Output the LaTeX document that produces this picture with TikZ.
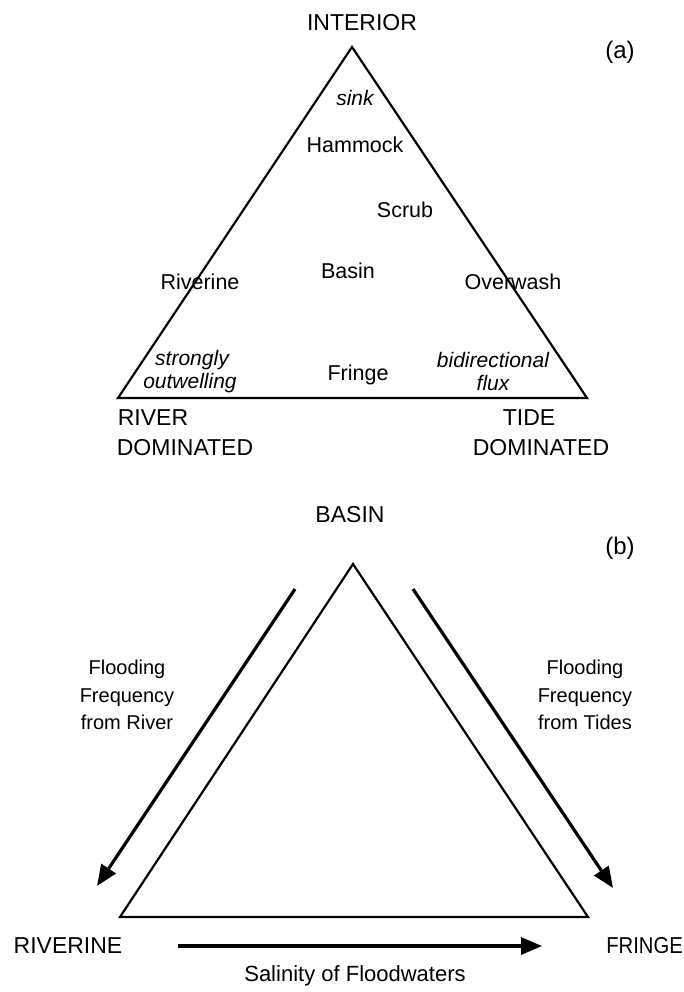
\documentclass[tikz,border=0pt]{standalone}
\usepackage{fontspec}
\usepackage{graphicx}
\setmainfont{Liberation Sans}
\usetikzlibrary{arrows.meta}
\begin{document}
\begin{tikzpicture}[x=1pt,y=-1pt,
  lbl/.style={inner sep=0pt,font=\fontsize{21.5}{25}\selectfont},
  ital/.style={inner sep=0pt,font=\fontsize{21}{25}\selectfont\itshape},
  caps/.style={inner sep=0pt,font=\fontsize{23}{27}\selectfont},
  multi/.style={inner sep=0pt,align=center,font=\fontsize{20}{27.5}\selectfont},
  tri/.style={line width=2.2pt,line join=miter},
  flow/.style={line width=3.2pt,-{Triangle[length=21pt,width=17pt]}}]
\useasboundingbox (0,0) rectangle (684,992);
% ---------- panel (a) ----------
\coordinate (aT) at (352,47);
\coordinate (aL) at (118,398);
\coordinate (aR) at (587,398);
\draw[tri] (aT) -- (aL) -- (aR) -- cycle;
\node[caps] (interior) at (362,23) {INTERIOR};
\node[caps,font=\fontsize{24}{28}\selectfont] (alab) at (620,52) {(a)};
\node[ital] (sink) at (355,98) {sink};
\node[lbl] (hammock) at (355,145) {Hammock};
\node[lbl] (scrub) at (405,210) {Scrub};
\node[lbl] (basin) at (348,271) {Basin};
\node[lbl] (riverine) at (200,282) {Riverine};
\node[lbl] (overwash) at (513,282) {Overwash};
\node[ital] (strongly) at (192,360) {strongly};
\node[ital] (outwell) at (190,383) {outwelling};
\node[lbl] (fringe) at (358,375) {Fringe};
\node[ital] (bidir) at (493,360) {bidirectional};
\node[ital] (flux) at (493,383) {flux};
\node[caps] (river) at (153,418) {RIVER};
\node[caps] (rdom) at (185,448) {DOMINATED};
\node[caps] (tide) at (529,418) {TIDE};
\node[caps] (tdom) at (541,448) {DOMINATED};
% ---------- panel (b) ----------
\coordinate (bT) at (353,564);
\coordinate (bL) at (120,917);
\coordinate (bR) at (588,917);
\draw[tri] (bT) -- (bL) -- (bR) -- cycle;
\node[caps] (basinB) at (350,515) {BASIN};
\node[caps,font=\fontsize{24}{28}\selectfont] (blab) at (620,548) {(b)};
\coordinate (lS) at (295,589);
\coordinate (lE) at (97,886);
\coordinate (rS) at (413,589);
\coordinate (rE) at (613,888);
\draw[flow] (lS) -- (lE);
\draw[flow] (rS) -- (rE);
\node[multi] (friver) at (127,695) {Flooding\\Frequency\\from River};
\node[multi] (ftides) at (585,695) {Flooding\\Frequency\\from Tides};
\node[caps] (riv) at (68,946) {RIVERINE};
\node[caps,anchor=east] (fri) at (683,946) {\scalebox{0.88}[1]{FRINGE}};
\coordinate (sS) at (178,946);
\coordinate (sE) at (542,946);
\draw[flow] (sS) -- (sE);
\node[lbl,font=\fontsize{22}{26}\selectfont] (salin) at (355,976) {Salinity of Floodwaters};
\end{tikzpicture}
\end{document}
